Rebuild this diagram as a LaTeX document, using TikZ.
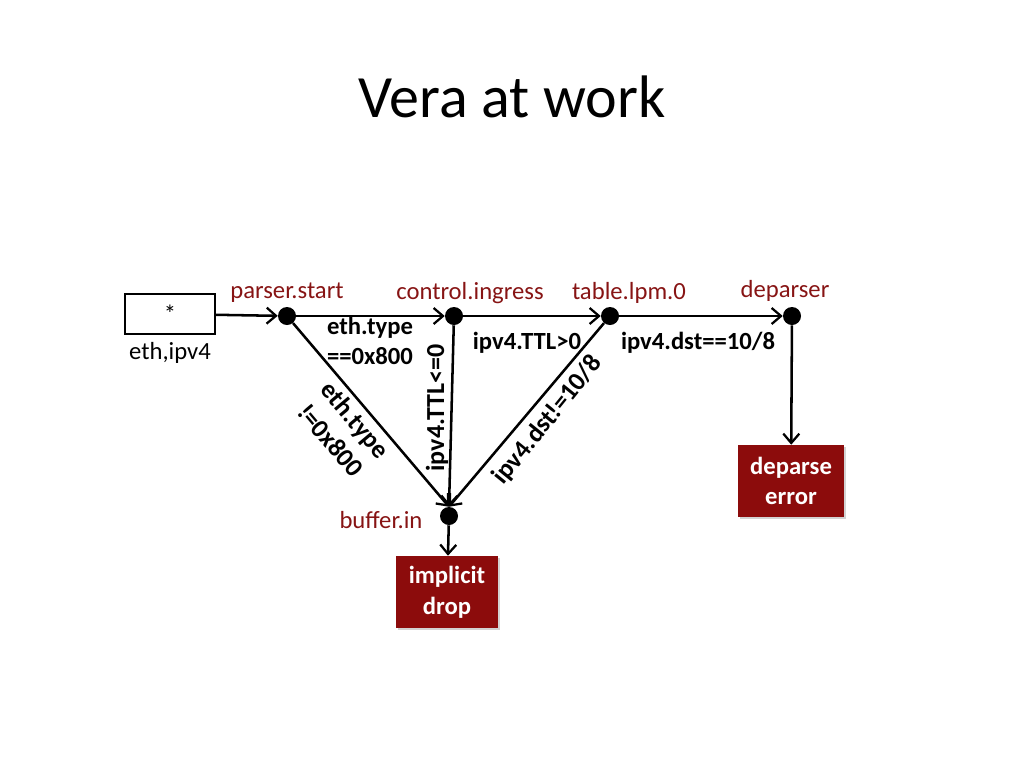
\documentclass[tikz,border=0pt]{standalone}
\usepackage{fontspec}
\setmainfont{Carlito}
\usetikzlibrary{arrows.meta,shadows}
\definecolor{lbl}{RGB}{135,20,20}
\definecolor{boxred}{RGB}{140,12,12}
\begin{document}
\begin{tikzpicture}[x=0.75pt,y=-0.75pt,
  dotnode/.style={circle,fill=black,inner sep=0pt,minimum size=13.5pt},
  lbltext/.style={text=lbl,font=\fontsize{18.5}{22}\selectfont,inner sep=0pt},
  cond/.style={font=\bfseries\fontsize{18.5}{23}\selectfont,inner sep=0pt,align=center},
  rcond/.style={font=\bfseries\fontsize{19.5}{24}\selectfont,inner sep=0pt,align=center},
  redbox/.style={fill=boxred,text=white,font=\bfseries\fontsize{18.5}{23}\selectfont,align=center,inner sep=0pt,drop shadow={opacity=0.35,shadow xshift=1.5pt,shadow yshift=-1.5pt}},
  edge/.style={line width=1.9pt,-{Straight Barb[length=7pt,width=12pt,line width=1.7pt]}},
]
\useasboundingbox (0,0) rectangle (1024,768);
\node[font=\fontsize{45}{50}\selectfont] (title) at (512,97) {Vera at work};

\node[draw,line width=1.6pt,minimum width=67pt,minimum height=30pt,inner sep=0pt,font=\fontsize{18.5}{22}\selectfont] (src) at (170,314) {*};
\node[font=\fontsize{18.5}{22}\selectfont,inner sep=0pt] (srclbl) at (170,353) {eth,ipv4};

\node[dotnode] (ps) at (287,316) {};
\node[dotnode] (ci) at (454,316) {};
\node[dotnode] (tl) at (610,316) {};
\node[dotnode] (dp) at (792,316) {};
\node[dotnode] (bi) at (449,516) {};

\node[lbltext] (pslbl) at (287,293) {parser.start};
\node[lbltext] (cilbl) at (470,293) {control.ingress};
\node[lbltext] (tllbl) at (629,293) {table.lpm.0};
\node[lbltext] (dplbl) at (785,291) {deparser};
\node[lbltext] (bilbl) at (381,520) {buffer.in};

\node[redbox,minimum width=76pt,minimum height=54pt] (drop) at (447,592) {implicit\\drop};
\node[redbox,minimum width=80pt,minimum height=54pt] (derr) at (791,481) {deparse\\error};

\draw[edge] (src) -- (ps);
\draw[edge] (ps) -- (ci);
\draw[edge] (ci) -- (tl);
\draw[edge] (tl) -- (dp);
\draw[edge] (ps) -- (bi.north);
\draw[edge] (ci) -- (bi.north);
\draw[edge] (tl) -- (bi.north);
\draw[edge] (bi) -- (drop);
\draw[edge] (dp) -- (derr);

\node[cond] (c1) at (370,341) {eth.type\\==0x800};
\node[cond] (c2) at (527,343) {ipv4.TTL>0};
\node[cond] (c3) at (698,343) {ipv4.dst==10/8};
\node[rcond,rotate=-50] (c4) at (343,430) {eth.type\\!=0x800};
\node[rcond,rotate=90] (c5) at (437,408) {ipv4.TTL<=0};
\node[rcond,rotate=51] (c6) at (548,420) {ipv4.dst!=10/8};
\end{tikzpicture}
\end{document}
